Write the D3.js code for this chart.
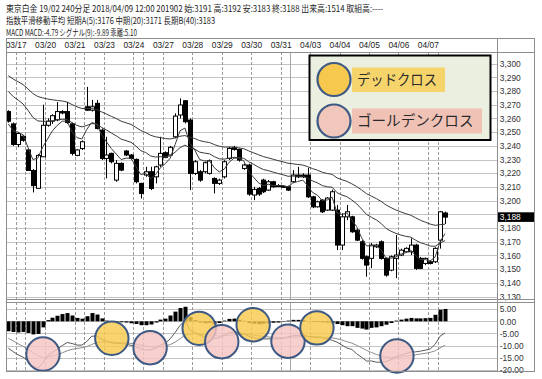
<!DOCTYPE html>
<html><head><meta charset="utf-8">
<script src="https://cdn.jsdelivr.net/npm/d3@7"></script>
<style>body{margin:0;background:#fff}svg{display:block}</style>
</head><body>
<svg id="c" width="542" height="379"></svg>
<script>
// ---------------- DATA ----------------
const headerLines = [
  "東京白金 19/02 240分足 2018/04/09 12:00 201902 始:3191 高:3192 安:3183 終:3188 出来高:1514 取組高:----",
  "指数平滑移動平均 短期A(5):3176 中期(20):3171 長期B(40):3183",
  "MACD MACD:-4.79 シグナル(9):-9.89 乖離:5.10"
];
const dateLabels = ["03/17","03/20","03/21","03/23","03/24","03/27","03/28","03/29","03/30","03/31","04/03","04/04","04/05","04/06","04/07"];
const dateTickIdx = [1.5,7.5,13.5,19.5,25.5,31.5,37.5,43.5,49.5,55.5,61.5,67.5,73.5,79.5,85.5];
const dayLineIdx = [3.5,15.5,27.5,87.5];
const weekLineIdx = [57.5];
const priceTicks = [3130,3140,3150,3160,3170,3180,3190,3200,3210,3220,3230,3240,3250,3260,3270,3280,3290,3300];
const priceLabelTicks = [3130,3140,3150,3160,3170,3180,3200,3210,3220,3230,3240,3250,3260,3270,3280,3290,3300];
const macdTicks = [5,0,-5,-10,-15,-20];
const lastPrice = 3188;

const opens = [3265,3256,3241,3247,3237,3222,3209,3232,3255,3258, 3259,3265,3265,3256,3233,3238,3268.5,3266,3271,3251.5, 3230.8,3234.5,3215,3227.2,3236.2,3233.3,3230.1,3212.6,3218.7,3221.1, 3217.4,3226,3235,3233.3,3246.6,3262.5,3272.9,3258.8,3219.9,3221.1, 3221.1,3219.9,3216.2,3212.6,3217.4,3230.8,3238.9,3237.4,3223.5,3226, 3204.1,3208.9,3215,3207.7,3213.8,3211,3210.5,3210.1,3213.8,3218.7, 3218.7,3218.7,3202.8,3195.5,3200.4,3193.1,3193.1,3193.1,3167.6,3188.2, 3188.2,3178.5,3170,3159.1,3157.9,3166.4,3170,3157.9,3149.3,3157.9, 3160.3,3162.7,3162.7,3167.6,3157.9,3154.2,3155.4,3155.4,3171.2,3191];
const highs = [3266,3257,3250,3248,3238,3223,3234,3270,3260,3263, 3272,3266,3272,3257,3237.5,3244,3283,3273.5,3273.5,3252.7, 3246.6,3235,3229.6,3228,3237,3234,3230.8,3213,3224.7,3224.7, 3225.5,3246.6,3236,3240,3263.7,3274.6,3273.4,3260,3229.6,3222.3, 3228.5,3230,3217,3216,3229.5,3239.3,3240,3238,3227,3227, 3210.1,3210,3216,3215,3214.5,3212,3211,3211,3222.3,3224.7, 3220,3224,3203.5,3200,3201,3202.5,3208,3196.8,3190.7,3196.8, 3189,3179.5,3171.2,3160,3169.1,3168.5,3171,3158.5,3160,3174.9, 3165,3166,3172.5,3168.5,3159,3158.5,3156.5,3166,3192.5,3192];
const lows = [3257,3240,3239,3243,3222,3206,3209,3232,3254,3256, 3258,3263,3256,3233,3232.5,3237,3265.5,3265,3252,3229.6, 3216.2,3227.2,3213.8,3221.5,3232.5,3230,3212.6,3201.6,3217.4,3207.7, 3212.6,3224.7,3231,3232.5,3245.4,3260,3256.4,3207.7,3218.7,3213.8, 3220,3219,3205.3,3211.5,3216.2,3229.6,3236.5,3228.5,3222.5,3203.5, 3200.4,3203.5,3205.5,3207,3209.5,3210,3209.5,3207,3212.8,3216.5, 3216.5,3201.9,3194.5,3195,3191,3192.5,3192.5,3163.9,3163.9,3185.8, 3176.5,3170.5,3157,3144.5,3150.8,3165.5,3157,3144.5,3148.5,3143.5, 3159.5,3162,3160.3,3149.5,3150,3153,3153.5,3154.5,3165,3183];
const closes = [3258,3241,3249,3244,3222,3211,3233,3255,3258,3262, 3265,3264,3257,3234.5,3237,3243,3266,3268.5,3252.7,3230.8, 3233.3,3228.4,3227.2,3222.3,3233.3,3230.8,3213.8,3205.3,3221.1,3208.9, 3224.7,3234.5,3231.6,3238.9,3261.7,3269.8,3257.6,3219.9,3228.4,3215, 3227.7,3229.1,3212.6,3215,3228.4,3238.1,3237.4,3229.6,3226,3204.8, 3208.2,3204.8,3206.5,3213.8,3210.1,3210.5,3210,3207.7,3218.7,3217.4, 3217.4,3202.8,3195.5,3199.2,3191.9,3201.9,3206.5,3167.6,3188.2,3191.9, 3177.3,3171.2,3157.9,3153,3167.6,3167.6,3157.9,3145.7,3159.1,3160.3, 3163.9,3165.2,3167.6,3150.6,3150.6,3157.9,3154.2,3165.2,3191.9,3188];

const emaShort = [3256,3251,3250,3248,3239,3230,3231,3239,3245,3251, 3255,3258,3258,3250,3246,3245,3252,3257,3256,3248, 3243,3238,3234,3230,3231,3231,3225,3219,3220,3216, 3219,3224,3227,3231,3241,3251,3253,3242,3237,3230, 3229,3229,3224,3221,3223,3228,3231,3231,3229,3221, 3217,3213,3211,3212,3211,3211,3211,3210,3213,3214, 3215,3211,3206,3204,3200,3200.5,3202.5,3191,3190,3191, 3186,3181,3173,3167,3167,3167,3164,3158,3158,3159, 3161,3162,3164,3160,3157,3157,3156,3159,3170,3176];
const emaMid = [3279.7,3276.0,3273.4,3270.6,3266.0,3260.8,3258.2,3257.9,3257.9,3258.3, 3258.9,3259.4,3259.2,3256.8,3254.9,3253.8,3254.9,3256.2,3255.9,3253.5, 3251.6,3249.4,3247.3,3244.9,3243.8,3242.6,3239.8,3236.5,3235.1,3232.6, 3231.8,3232.1,3232.0,3232.7,3235.4,3238.7,3240.5,3238.6,3237.6,3235.4, 3234.7,3234.2,3232.1,3230.5,3230.3,3231.0,3231.6,3231.4,3230.9,3228.4, 3226.5,3224.4,3222.7,3221.9,3220.8,3219.8,3218.9,3217.8,3217.9,3217.9, 3217.8,3216.4,3214.4,3213.0,3211.0,3210.1,3209.8,3205.8,3204.1,3202.9, 3200.5,3197.7,3193.9,3190.0,3187.9,3186.0,3183.3,3179.7,3177.7,3176.1, 3174.9,3174.0,3173.4,3171.2,3169.3,3168.2,3166.9,3166.7,3169.1,3170.9];
const emaLong = [3291.2,3288.7,3286.8,3284.7,3281.6,3278.2,3276.0,3275.0,3274.2,3273.6, 3273.1,3272.7,3271.9,3270.1,3268.5,3267.2,3267.2,3267.2,3266.5,3264.8, 3263.2,3261.5,3259.9,3258.0,3256.8,3255.6,3253.5,3251.2,3249.7,3247.7, 3246.6,3246.0,3245.3,3245.0,3245.8,3247.0,3247.5,3246.2,3245.3,3243.8, 3243.0,3242.4,3240.9,3239.7,3239.1,3239.1,3239.0,3238.5,3237.9,3236.3, 3234.9,3233.5,3232.1,3231.2,3230.2,3229.2,3228.3,3227.3,3226.9,3226.4, 3226.0,3224.8,3223.4,3222.2,3220.7,3219.8,3219.2,3216.6,3215.3,3214.1, 3212.3,3210.3,3207.8,3205.1,3203.3,3201.5,3199.4,3196.8,3194.9,3193.2, 3191.8,3190.5,3189.4,3187.5,3185.7,3184.3,3182.9,3182.0,3182.5,3182.8];

const macdLine = [-11.1,-12.5,-13.85,-14.75,-16.35,-18.3,-19.4,-17.3,-14.2,-12.8, -11.45,-10.0,-8.75,-9.15,-9.8,-9.8,-8.3,-6.15,-6.05,-7.35, -8.2,-8.85,-9.2,-9.2,-9.4,-9.9,-10.5,-11.4,-11.8,-11.8, -11.1,-9.75,-9.1,-7.2,-4.6,-1.7,0.3,-3.45,-4.6,-5.75, -6.25,-6.2,-7.1,-6.8,-5.7,-4.75,-4.4,-4.7,-5.1,-6.15, -6.7,-7.2,-7.25,-7.25,-7.2,-7.2,-7.0,-6.4,-5.95,-5.8, -5.8,-6.15,-6.5,-6.7,-6.9,-7.1,-7.85,-8.6,-9.8,-11.0, -11.6,-13.4,-14.8,-16.4,-16.35,-16.85,-16.9,-16.55,-15.9,-14.6, -14.0,-13.35,-12.7,-12.6,-12.3,-11.9,-11.4,-9.45,-6.15,-4.79];
const signalLine = [-7.0,-8.1,-9.25,-10.35,-11.55,-12.9,-14.2,-14.8,-14.7,-14.3, -13.75,-13.0,-12.15,-11.55,-11.2,-10.9,-10.4,-9.55,-8.85,-8.55, -8.5,-8.55,-8.7,-8.8,-8.9,-9.1,-9.4,-9.8,-10.2,-10.5, -10.6,-10.45,-10.2,-9.6,-8.6,-7.2,-5.7,-5.25,-5.1,-5.25, -5.45,-5.6,-5.9,-6.1,-6.0,-5.75,-5.5,-5.3,-5.3,-5.45, -5.7,-6.0,-6.25,-6.45,-6.6,-6.7,-6.8,-6.7,-6.55,-6.4, -6.3,-6.25,-6.3,-6.4,-6.5,-6.6,-6.85,-7.2,-7.7,-8.4, -9.0,-9.9,-10.9,-12.0,-12.85,-13.65,-14.3,-14.75,-15.0,-14.9, -14.7,-14.45,-14.1,-13.8,-13.5,-13.2,-12.8,-12.15,-10.95,-9.89];
const macdHist = [-4.1,-4.4,-4.6,-4.4,-4.8,-5.4,-5.2,-2.5,0.5,1.5, 2.3,3.0,3.4,2.4,1.4,1.1,2.1,3.4,2.8,1.2, 0.3,-0.3,-0.5,-0.4,-0.5,-0.8,-1.1,-1.6,-1.6,-1.3, -0.5,0.7,1.1,2.4,4.0,5.5,6.0,1.8,0.5,-0.5, -0.8,-0.6,-1.2,-0.7,0.3,1.0,1.1,0.6,0.2,-0.7, -1.0,-1.2,-1.0,-0.8,-0.6,-0.5,-0.2,0.3,0.6,0.6, 0.5,0.1,-0.2,-0.3,-0.4,-0.5,-0.8,-1.1,-1.6,-2.0, -2.0,-2.7,-3.0,-3.4,-2.7,-2.5,-2.0,-1.4,-0.7,0.3, 0.7,1.1,1.4,1.2,1.2,1.3,1.4,2.7,4.8,5.1];

// crossing annotations (bar index, macd value, type)
const crossIdx = [7.07,21.1,28.9,38.9,43.5,49.9,57.0,62.9,79.2];
const crossVal = [-13.5,-7.0,-10.9,-2.9,-8.4,-1.4,-8.2,-2.7,-14.3];
const crossType = ["G","D","G","D","G","D","G","D","G"];
const legendLabels = ["デッドクロス","ゴールデンクロス"];

// ---------------- DRAW ----------------
const svg = d3.select("#c");
const FL=6, FR=534.5, PR=497, FT=38.5, DB=52, MB=299.5, MT=302, BB=371.5;
const JP = "'Noto Sans CJK JP','Noto Sans',sans-serif";
const NUM = "'Liberation Sans',Arial,sans-serif";
const yellow = "#f6c94e", pink = "#f5c5c2", ring = "#3e5a84";

svg.append("rect").attr("width",542).attr("height",379).attr("fill","#fff");

const n = closes.length;
const x = d3.scaleLinear().domain([0, n-1]).range([8.3, 445]);
const y = d3.scaleLinear().domain([3130, 3300]).range([296.6, 63.6]);
const ym = d3.scaleLinear().domain([-20, 5]).range([369.8, 309.2]);
const px = v => Math.round(v) + 0.5;

const defs = svg.append("defs");
defs.append("clipPath").attr("id","cm").append("rect").attr("x",FL).attr("y",DB).attr("width",PR-FL).attr("height",MB-DB);
defs.append("clipPath").attr("id","cd").append("rect").attr("x",FL).attr("y",MT).attr("width",PR-FL).attr("height",BB-MT);

// header
const hdrLen = [377, 209, 131];
svg.append("g").selectAll("text").data(headerLines).join("text")
  .attr("x", 6).attr("y", (d,i)=> 11.5 + i*12.2)
  .attr("font-family", JP).attr("font-size", 8.6).attr("fill", "#222")
  .attr("textLength", (d,i)=>hdrLen[i]).attr("lengthAdjust","spacingAndGlyphs")
  .text(d=>d);

// main panel grid
const main = svg.append("g").attr("clip-path","url(#cm)");
main.selectAll("line.h").data(priceTicks).join("line")
  .attr("x1",FL).attr("x2",PR).attr("y1",d=>px(y(d))).attr("y2",d=>px(y(d)))
  .attr("stroke","#c3c3c3").attr("stroke-width",1);
const vDash = dateTickIdx.concat(dayLineIdx);
function vlines(g, y1, y2){
  g.selectAll("line.vd").data(vDash).join("line").attr("class","vd")
    .attr("x1",d=>px(x(d))).attr("x2",d=>px(x(d))).attr("y1",y1).attr("y2",y2)
    .attr("stroke","#9a9a9a").attr("stroke-dasharray","3,2");
  g.selectAll("line.vw").data(weekLineIdx).join("line").attr("class","vw")
    .attr("x1",d=>px(x(d))).attr("x2",d=>px(x(d))).attr("y1",y1).attr("y2",y2)
    .attr("stroke","#a8a8a8");
}
vlines(main, DB, MB);

// candles
const idx = d3.range(n);
const cg = main.append("g");
cg.selectAll("line.w").data(idx).join("line")
  .attr("x1",i=>px(x(i))).attr("x2",i=>px(x(i)))
  .attr("y1",i=>y(highs[i])).attr("y2",i=>y(lows[i]))
  .attr("stroke","#000").attr("stroke-width",1);
cg.selectAll("rect").data(idx).join("rect")
  .attr("x",i=>Math.round(x(i))-1.5).attr("width",4)
  .attr("y",i=>y(Math.max(opens[i],closes[i])))
  .attr("height",i=>Math.max(1, Math.abs(y(opens[i])-y(closes[i]))))
  .attr("fill",i=>closes[i]<opens[i]?"#000":"#fff")
  .attr("stroke","#000").attr("stroke-width",1);

// moving averages
const maLine = d3.line().x((d,i)=>x(i)).y(d=>y(d));
[emaLong, emaMid, emaShort].forEach(arr=>{
  main.append("path").datum(arr).attr("d",maLine)
    .attr("fill","none").attr("stroke","#3a3a3a").attr("stroke-width",1);
});

// MACD panel
const mg = svg.append("g").attr("clip-path","url(#cd)");
mg.selectAll("line.h").data(macdTicks).join("line")
  .attr("x1",FL).attr("x2",PR).attr("y1",d=>px(ym(d))).attr("y2",d=>px(ym(d)))
  .attr("stroke","#c3c3c3");
vlines(mg, MT, BB);
mg.selectAll("rect.hb").data(idx).join("rect").attr("class","hb")
  .attr("x",i=>Math.round(x(i))-1.5).attr("width",4)
  .attr("y",i=>Math.min(ym(0),ym(macdHist[i])))
  .attr("height",i=>Math.abs(ym(macdHist[i])-ym(0)))
  .attr("fill","#000");
const mLine = d3.line().x((d,i)=>x(i)).y(d=>ym(d));
mg.append("path").datum(signalLine).attr("d",mLine).attr("fill","none").attr("stroke","#8c8c8c").attr("stroke-width",1);
mg.append("path").datum(macdLine).attr("d",mLine).attr("fill","none").attr("stroke","#5a5a5a").attr("stroke-width",1);

// crossing circles
svg.append("g").selectAll("circle").data(crossIdx).join("circle")
  .attr("cx",(d)=>x(d)).attr("cy",(d,i)=>ym(crossVal[i])).attr("r",16.7)
  .attr("fill",(d,i)=>crossType[i]==="D"?yellow:pink).attr("fill-opacity",0.82)
  .attr("stroke",ring).attr("stroke-width",2);

// axes
const fmtP = d3.format(",");
const ay = svg.append("g").attr("transform",`translate(${PR},0)`)
  .call(d3.axisRight(y).tickValues(priceLabelTicks).tickSize(0).tickPadding(2.8).tickFormat(fmtP));
ay.select(".domain").remove();
ay.selectAll("text").attr("font-family",NUM).attr("font-size",8.4).attr("fill","#333");

const am = svg.append("g").attr("transform",`translate(${PR},0)`)
  .call(d3.axisRight(ym).tickValues(macdTicks).tickSize(0).tickPadding(2.8).tickFormat(d=>d.toFixed(2)));
am.select(".domain").remove();
am.selectAll("text").attr("font-family",NUM).attr("font-size",8.4).attr("fill","#333");

const ad = svg.append("g").attr("transform",`translate(0,${FT})`)
  .call(d3.axisBottom(x).tickValues(dateTickIdx).tickSize(0).tickPadding(3.2).tickFormat((d,i)=>dateLabels[i]));
ad.select(".domain").remove();
ad.selectAll("text").attr("font-family",NUM).attr("font-size",8.4).attr("fill","#222");

// last price tag
const tag = svg.append("g");
tag.append("rect").attr("x",PR).attr("y",y(lastPrice)-4.8).attr("width",FR-PR).attr("height",9.6).attr("fill","#000");
tag.append("text").attr("x",PR+2.8).attr("y",y(lastPrice)).attr("dy","0.34em")
  .attr("font-family",NUM).attr("font-size",8.4).attr("fill","#fff").text(fmtP(lastPrice));

// frame
const fr = svg.append("g").attr("stroke","#8e8e8e").attr("fill","none").attr("shape-rendering","crispEdges");
fr.append("rect").attr("x",FL).attr("y",FT).attr("width",FR-FL).attr("height",BB-FT);
fr.append("line").attr("x1",FL).attr("x2",FR).attr("y1",DB).attr("y2",DB);
fr.append("line").attr("x1",PR).attr("x2",PR).attr("y1",FT).attr("y2",BB);
fr.append("line").attr("x1",FL).attr("x2",FR).attr("y1",MB).attr("y2",MB);
fr.append("line").attr("x1",FL).attr("x2",FR).attr("y1",MT).attr("y2",MT);

// legend
const lg = svg.append("g");
lg.append("rect").attr("x",309.5).attr("y",55.5).attr("width",181).attr("height",84.5)
  .attr("fill","#ebefdf").attr("stroke","#000").attr("stroke-width",2);
const legY = [79.5, 121];
const legBg = [[352,67.5,93,24.5,"#f5d46c"],[352,108.5,130,25,"#f0c2b6"]];
legBg.forEach(b=>lg.append("rect").attr("x",b[0]).attr("y",b[1]).attr("width",b[2]).attr("height",b[3]).attr("fill",b[4]));
lg.selectAll("circle").data(legY).join("circle").attr("cx",334).attr("cy",d=>d).attr("r",16.5)
  .attr("fill",(d,i)=>i===0?yellow:"#f1c6bb").attr("stroke",ring).attr("stroke-width",2.2);
const legLen = [80, 116.5];
lg.selectAll("text").data(legendLabels).join("text")
  .attr("x",357).attr("y",(d,i)=>legY[i]+5.2)
  .attr("font-family",JP).attr("font-size",14.5).attr("fill","#2a2a2a")
  .attr("textLength",(d,i)=>legLen[i]).attr("lengthAdjust","spacingAndGlyphs")
  .text(d=>d);
</script>
</body></html>
